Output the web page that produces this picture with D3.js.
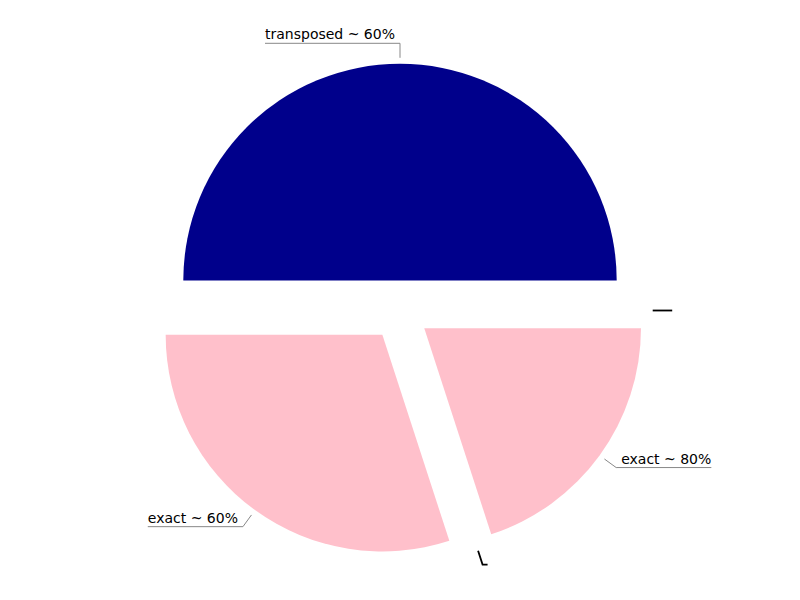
<!DOCTYPE html>
<html><head><meta charset="utf-8">
<script src="https://cdn.jsdelivr.net/npm/d3@7"></script>
<style>body{margin:0;background:#fff}svg{display:block}</style>
</head><body>
<svg id="chart" width="800" height="600"></svg>
<script>
const labels = ["transposed ~ 60%", "", "exact ~ 80%", "", "exact ~ 60%"];
const values = [50, 0, 20, 0, 30];
const colors = ["#00008b", "#ffc0cb", "#ffc0cb", "#ffc0cb", "#ffc0cb"];

const W = 800, H = 600, cx = 400, cy = 310.5, R = 216.7, explode = 30;
const svg = d3.select("#chart");
const g = svg.append("g").attr("transform", `translate(${cx},${cy})`);

const data = labels.map((l, i) => ({label: l, value: values[i], color: colors[i]}));
const pie = d3.pie().value(d => d.value).sort(null)
  .startAngle(-Math.PI / 2).endAngle(3 * Math.PI / 2);
const arcs = pie(data);
const arc = d3.arc().innerRadius(0).outerRadius(R);
const mid = a => (a.startAngle + a.endAngle) / 2;
const pt = (ang, r) => [Math.sin(ang) * r, -Math.cos(ang) * r];

g.selectAll("path.slice").data(arcs.filter(a => a.value > 0)).join("path")
  .attr("class", "slice")
  .attr("d", arc)
  .attr("fill", a => a.data.color)
  .attr("transform", a => { const p = pt(mid(a), explode); return `translate(${p[0]},${p[1]})`; });

const r1 = R + explode + 6, r2 = R + explode + 20.5;
arcs.forEach(a => {
  const m = mid(a);
  const right = Math.sin(m) > 1e-9;
  const p1 = pt(m, r1), p2 = pt(m, r2);
  const empty = a.data.label === "";
  let tw = 0, txt = null;
  if (!empty) {
    txt = g.append("text")
      .attr("font-family", "DejaVu Sans, sans-serif")
      .attr("font-size", 14)
      .attr("fill", "#000")
      .attr("text-anchor", right ? "start" : "end")
      .attr("x", right ? p2[0] + 5 : p2[0] - 5)
      .attr("y", p2[1] - 4)
      .text(a.data.label);
    tw = txt.node().getComputedTextLength();
  }
  const ex = right ? p2[0] + 5 + tw : p2[0] - 5 - tw;
  g.insert("polyline", "text")
    .attr("points", [p1, p2, [ex, p2[1]]].map(p => p.join(",")).join(" "))
    .attr("fill", "none")
    .attr("stroke", empty ? "#000" : "#888")
    .attr("stroke-width", empty ? 1.8 : 1);
});
</script>
</body></html>
